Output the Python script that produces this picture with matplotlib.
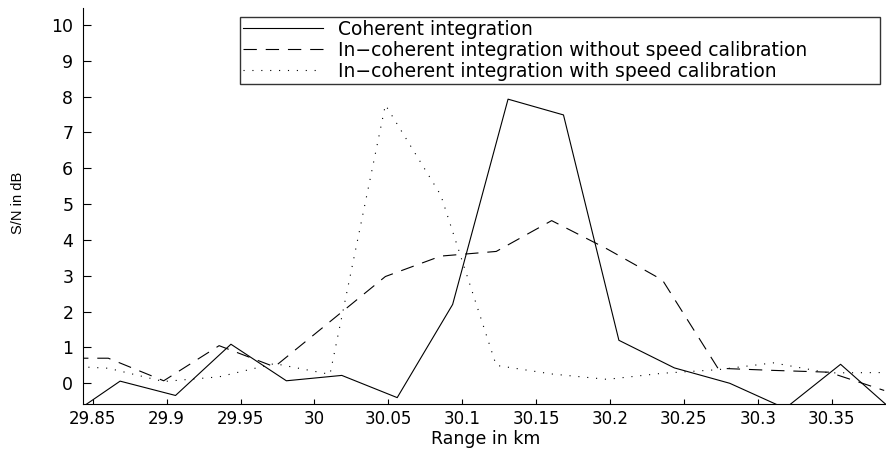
import matplotlib
matplotlib.use("Agg")
import matplotlib.pyplot as plt

# ---------------- data ----------------
range_coh = [29.831, 29.8685, 29.906, 29.9435, 29.981, 30.0185, 30.056, 30.0935,
             30.131, 30.1685, 30.206, 30.2435, 30.281, 30.3185, 30.356, 30.3935]
snr_coh = [-1.0, 0.06, -0.34, 1.09, 0.07, 0.22, -0.40, 2.2,
           7.93, 7.49, 1.2, 0.43, 0.0, -0.7, 0.53, -0.84]

range_inc = [29.823, 29.8605, 29.898, 29.9355, 29.973, 30.0105, 30.048, 30.0855,
             30.123, 30.1605, 30.198, 30.2355, 30.273, 30.3105, 30.348, 30.3855]
snr_inc_nocal = [0.70, 0.70, 0.07, 1.05, 0.46, 1.72, 2.98, 3.55,
                 3.68, 4.54, 3.75, 2.88, 0.42, 0.36, 0.31, -0.2]
snr_inc_cal = [0.5, 0.42, 0.05, 0.18, 0.55, 0.25, 7.77, 5.25,
               0.5, 0.26, 0.11, 0.28, 0.38, 0.57, 0.29, 0.3]

labels = ["Coherent integration",
          "In\u2212coherent integration without speed calibration",
          "In\u2212coherent integration with speed calibration"]

xticks = [29.85, 29.9, 29.95, 30.0, 30.05, 30.1, 30.15, 30.2, 30.25, 30.3, 30.35]
xticklabels = ["29.85", "29.9", "29.95", "30", "30.05", "30.1", "30.15",
               "30.2", "30.25", "30.3", "30.35"]
yticks = list(range(0, 11))
yticklabels = [str(v) for v in yticks]

# ---------------- figure ----------------
plt.rcParams['font.family'] = ['DejaVu Sans']
fig = plt.figure(figsize=(8.87, 4.5), dpi=100)
ax = fig.add_axes([83/887, 46/450, (886.7-83)/887, (404-8.3)/450])

lw = 0.8
ax.plot(range_coh, snr_coh, color='black', lw=lw, linestyle='-', label=labels[0])
ax.plot(range_inc, snr_inc_nocal, color='black', lw=lw, linestyle=(0, (12, 8)), label=labels[1])
ax.plot(range_inc, snr_inc_cal, color='black', lw=lw, linestyle=(0, (1, 7)), label=labels[2])

ax.set_xlim(29.8434, 30.3872)
ax.set_ylim(-0.578, 10.466)

ax.set_xticks(xticks)
ax.set_xticklabels(xticklabels)
ax.set_yticks(yticks)
ax.set_yticklabels(yticklabels)

for s in ['top', 'right']:
    ax.spines[s].set_visible(False)
for s in ['left', 'bottom']:
    ax.spines[s].set_linewidth(0.8)

ax.tick_params(axis='x', direction='in', length=3.6, width=0.8, pad=4, labelsize=12)
ax.tick_params(axis='y', direction='in', length=5.5, width=0.8, pad=7, labelsize=12.5)

ax.set_xlabel("Range in km", fontsize=12.5)
ax.xaxis.set_label_coords(0.501, -0.088)
ax.xaxis.label.set_va('center')
ax.set_ylabel("S/N in dB", fontsize=10.5, family=['Liberation Sans', 'DejaVu Sans'])
ax.yaxis.set_label_coords(-0.081, 0.508)
ax.yaxis.label.set_va('center')

leg = ax.legend(loc='upper left', bbox_to_anchor=(240/887, 1 - 80.7/450, (880-240)/887, (80.7-16.7)/450),
                bbox_transform=fig.transFigure, mode='expand', fontsize=13.5,
                frameon=True, fancybox=False, borderaxespad=0, borderpad=0.15,
                handlelength=4.3, handletextpad=0.75, labelspacing=0.12)
leg.get_frame().set_edgecolor('black')
leg.get_frame().set_linewidth(1.0)

fig.savefig("out.png", dpi=100)
